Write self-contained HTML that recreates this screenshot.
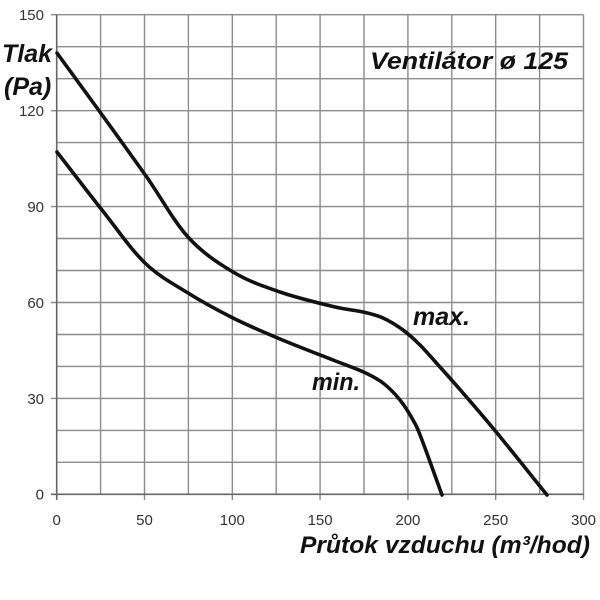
<!DOCTYPE html>
<html>
<head>
<meta charset="utf-8">
<style>
html,body{margin:0;padding:0;background:#fff;}
svg{display:block;}
</style>
</head>
<body>
<svg width="600" height="600" viewBox="0 0 600 600" xmlns="http://www.w3.org/2000/svg">
<rect width="600" height="600" fill="#fff"/>
<g stroke="#8c8c8c" stroke-width="1.4" fill="none">
<line x1="56.7" y1="462.3" x2="583.5" y2="462.3"/>
<line x1="56.7" y1="430.4" x2="583.5" y2="430.4"/>
<line x1="51" y1="398.4" x2="583.5" y2="398.4"/>
<line x1="56.7" y1="366.4" x2="583.5" y2="366.4"/>
<line x1="56.7" y1="334.5" x2="583.5" y2="334.5"/>
<line x1="51" y1="302.5" x2="583.5" y2="302.5"/>
<line x1="56.7" y1="270.5" x2="583.5" y2="270.5"/>
<line x1="56.7" y1="238.5" x2="583.5" y2="238.5"/>
<line x1="51" y1="206.6" x2="583.5" y2="206.6"/>
<line x1="56.7" y1="174.6" x2="583.5" y2="174.6"/>
<line x1="56.7" y1="142.6" x2="583.5" y2="142.6"/>
<line x1="51" y1="110.7" x2="583.5" y2="110.7"/>
<line x1="56.7" y1="78.7" x2="583.5" y2="78.7"/>
<line x1="56.7" y1="46.7" x2="583.5" y2="46.7"/>
<line x1="51" y1="14.7" x2="583.5" y2="14.7"/>
<line x1="100.6" y1="14.7" x2="100.6" y2="494.3"/>
<line x1="144.5" y1="14.7" x2="144.5" y2="500"/>
<line x1="188.4" y1="14.7" x2="188.4" y2="494.3"/>
<line x1="232.3" y1="14.7" x2="232.3" y2="500"/>
<line x1="276.2" y1="14.7" x2="276.2" y2="494.3"/>
<line x1="320.1" y1="14.7" x2="320.1" y2="500"/>
<line x1="364.0" y1="14.7" x2="364.0" y2="494.3"/>
<line x1="407.9" y1="14.7" x2="407.9" y2="500"/>
<line x1="451.8" y1="14.7" x2="451.8" y2="494.3"/>
<line x1="495.7" y1="14.7" x2="495.7" y2="500"/>
<line x1="539.6" y1="14.7" x2="539.6" y2="494.3"/>
<line x1="583.5" y1="14.7" x2="583.5" y2="500"/>
</g>
<g stroke="#666" stroke-width="1.6" fill="none">
<line x1="56.7" y1="14.7" x2="56.7" y2="500"/>
<line x1="51" y1="494.3" x2="583.5" y2="494.3"/>
</g>
<g font-family="Liberation Sans, Arial, sans-serif" font-size="15" fill="#333" text-anchor="end">
<text x="44" y="499.7">0</text>
<text x="44" y="403.8">30</text>
<text x="44" y="307.9">60</text>
<text x="44" y="212">90</text>
<text x="44" y="116.1">120</text>
<text x="44" y="20.1">150</text>
</g>
<g font-family="Liberation Sans, Arial, sans-serif" font-size="15" fill="#333" text-anchor="middle">
<text x="56.7" y="525">0</text>
<text x="144.5" y="525">50</text>
<text x="232.3" y="525">100</text>
<text x="320.1" y="525">150</text>
<text x="407.9" y="525">200</text>
<text x="495.7" y="525">250</text>
<text x="583.5" y="525">300</text>
</g>
<g fill="none" stroke="#111" stroke-width="3.6" stroke-linecap="round" stroke-linejoin="round">
<path d="M57,53 C71.3,72.7 85.2,91.5 100,112 C114.8,132.5 131.3,155.2 146,176 C160.7,196.8 173.5,221 188,237 C202.5,253 217.7,262.8 233,272 C248.3,281.2 263.3,286.3 280,292 C296.7,297.8 319.2,303.2 333,306.5 C346.8,309.8 354.7,310.1 363,312 C371.3,313.9 376.3,315 383,318 C389.7,321 396.8,325.5 403,330 C409.2,334.5 413.8,338.8 420,345 C426.2,351.2 432.8,359 440,367 C447.2,375 453.5,382 463,393 C472.5,404 483,416 497,433 C511,450 530.3,474.3 547,495"/>
<path d="M57,152 C72,171.3 87.3,191.5 102,210 C116.7,228.5 130.7,249.2 145,263 C159.3,276.8 173.3,283.8 188,293 C202.7,302.2 217.7,310.3 233,318 C248.3,325.7 263.3,332 280,339 C296.7,346 319.2,354.6 333,360 C346.8,365.4 354.7,367.9 363,371.7 C371.3,375.5 376.8,378.3 383,383 C389.2,387.7 395,393.8 400,400 C405,406.2 409.3,413.3 413,420 C416.7,426.7 417.2,427.5 422,440 C426.8,452.5 435.3,476.7 442,495"/>
</g>
<g font-family="Liberation Sans, Arial, sans-serif" font-weight="bold" font-style="italic" fill="#111">
<text x="2" y="62" font-size="25">Tlak</text>
<text x="4" y="95" font-size="25">(Pa)</text>
<text x="370" y="69" font-size="24" textLength="198" lengthAdjust="spacingAndGlyphs">Ventilátor ø 125</text>
<text x="300" y="553" font-size="24" textLength="290" lengthAdjust="spacingAndGlyphs">Průtok vzduchu (m³/hod)</text>
<text x="413" y="325" font-size="25" textLength="57" lengthAdjust="spacingAndGlyphs">max.</text>
<text x="312" y="390" font-size="24" textLength="48" lengthAdjust="spacingAndGlyphs">min.</text>
</g>
</svg>
</body>
</html>
